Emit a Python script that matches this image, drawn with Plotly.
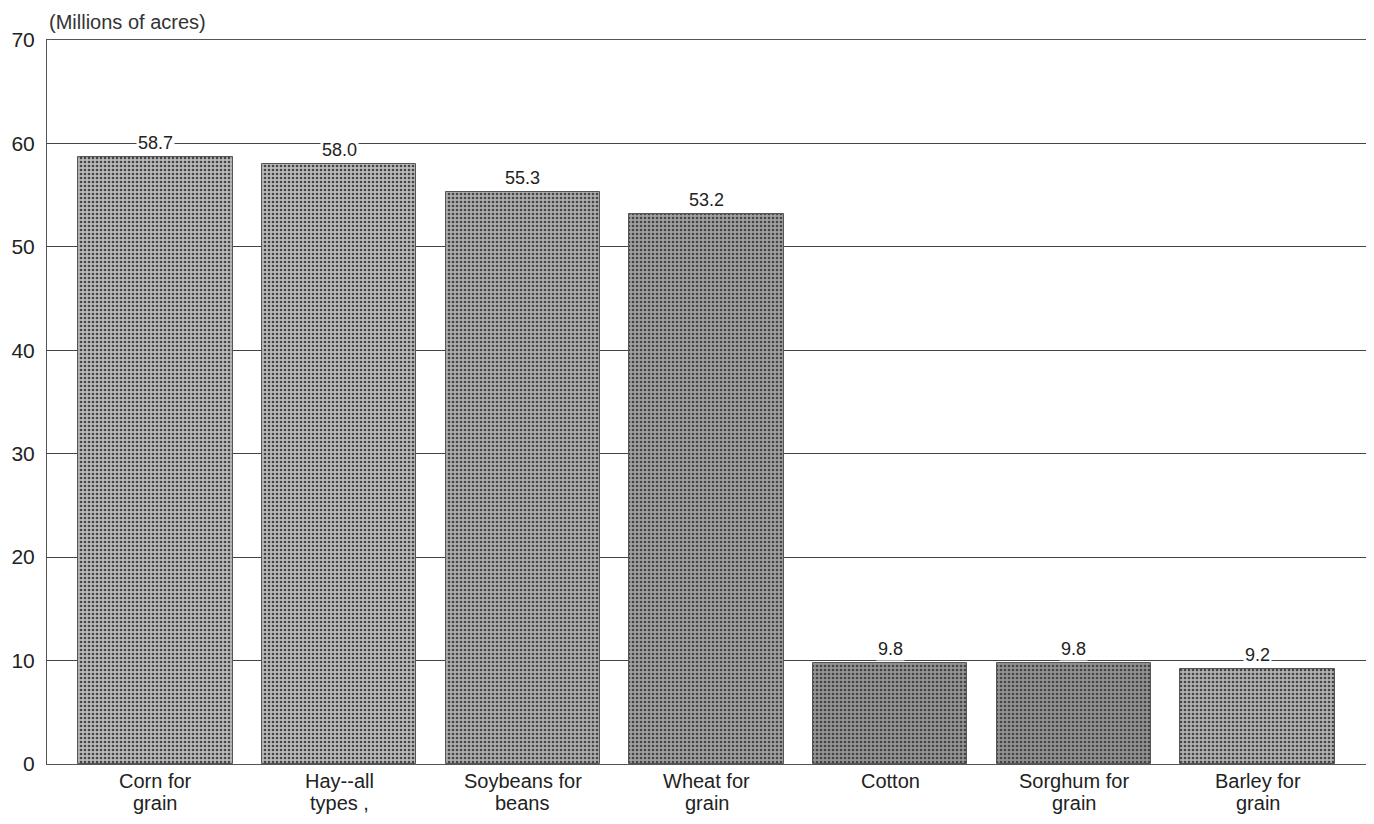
import plotly.graph_objects as go

categories = ["Corn for<br>grain", "Hay--all<br>types ,", "Soybeans for<br>beans", "Wheat for<br>grain",
              "Cotton", "Sorghum for<br>grain", "Barley for<br>grain"]
values = [58.7, 58.0, 55.3, 53.2, 9.8, 9.8, 9.2]
labels = ["58.7", "58.0", "55.3", "53.2", "9.8", "9.8", "9.2"]
bar_colors = ["#b8b8b8", "#bababa", "#adadad", "#a0a0a0", "#949494", "#929292", "#b0b0b0"]
fg_colors = ["#8a8a8a", "#8c8c8c", "#7e7e7e", "#6e6e6e", "#626262", "#606060", "#828282"]
y_ticks = [0, 10, 20, 30, 40, 50, 60, 70]

font_family = "Liberation Sans, Arial, sans-serif"

fig = go.Figure()
fig.add_trace(go.Bar(
    x=list(range(len(categories))),
    y=values,
    width=0.84,
    marker=dict(
        color=bar_colors,
        line=dict(color="#555555", width=1),
        pattern=dict(shape=".", size=4, solidity=0.35, fgcolor=fg_colors, fgopacity=1),
    ),
    showlegend=False,
    hoverinfo="skip",
))

for i, (v, t) in enumerate(zip(values, labels)):
    fig.add_annotation(
        x=i, y=v, text=t, showarrow=False, yanchor="middle", yshift=14,
        bgcolor="white", borderpad=1,
        font=dict(family=font_family, size=18, color="#222222"),
    )

# category labels: each line placed separately for tight line spacing
for i, cat in enumerate(categories):
    for j, line in enumerate(cat.split("<br>")):
        fig.add_annotation(
            x=i, xref="x", y=0, yref="paper", text=line, showarrow=False,
            yanchor="middle", yshift=-(17 + 22 * j),
            font=dict(family=font_family, size=20, color="#222222"),
        )

fig.add_annotation(
    xref="paper", yref="paper", x=0, y=1, xanchor="left", yanchor="bottom", yshift=5,
    text="(Millions of acres)", showarrow=False,
    font=dict(family=font_family, size=20, color="#333333"),
)

fig.update_layout(
    width=1358, height=808,
    margin=dict(l=39, r=0, t=32, b=52),
    paper_bgcolor="white", plot_bgcolor="white",
    bargap=0,
    font=dict(family=font_family, size=20, color="#222222"),
)
fig.update_xaxes(
    tickmode="array", tickvals=list(range(len(categories))),
    range=[-0.59, 6.59], showgrid=False, showline=True, linecolor="#555555", linewidth=1,
    mirror=True, ticks="", automargin=False, showticklabels=False,
)
fig.update_yaxes(
    range=[0, 70], tickvals=y_ticks, showgrid=True, gridcolor="#444444", gridwidth=1,
    showline=True, linecolor="#555555", linewidth=1, mirror=True,
    ticks="outside", ticklen=7, tickcolor="rgba(0,0,0,0)", automargin=False,
    zeroline=False, tickfont=dict(family=font_family, size=21, color="#222222"),
)

fig.write_html("out.html")
